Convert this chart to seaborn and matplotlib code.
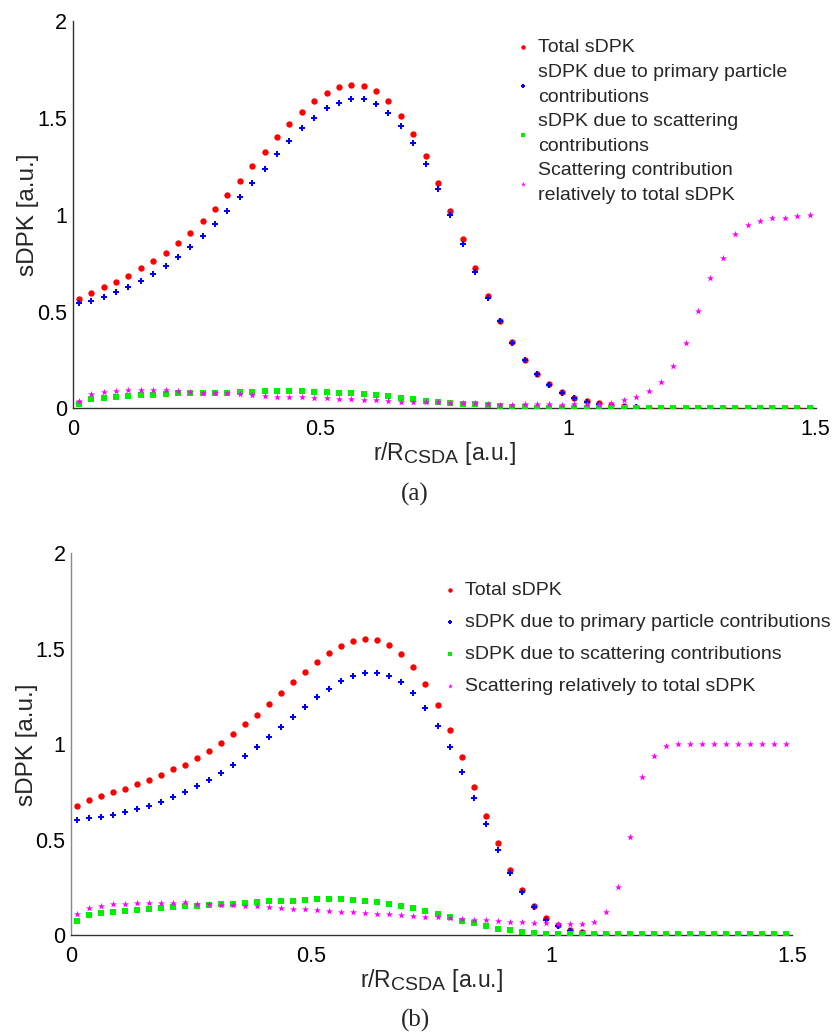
import numpy as np
import pandas as pd
import matplotlib
matplotlib.use("Agg")
import matplotlib.pyplot as plt
import seaborn as sns

try:
    import matplotlib._mathtext as _mt
    _mt.SHRINK_FACTOR = 0.85
except Exception:
    pass

# ---------------- data ----------------
r = [0.0125, 0.0375, 0.0625, 0.0875, 0.1125, 0.1375, 0.1625, 0.1875, 0.2125, 0.2375,
     0.2625, 0.2875, 0.3125, 0.3375, 0.3625, 0.3875, 0.4125, 0.4375, 0.4625, 0.4875,
     0.5125, 0.5375, 0.5625, 0.5875, 0.6125, 0.6375, 0.6625, 0.6875, 0.7125, 0.7375,
     0.7625, 0.7875, 0.8125, 0.8375, 0.8625, 0.8875, 0.9125, 0.9375, 0.9625, 0.9875,
     1.0125, 1.0375, 1.0625, 1.0875, 1.1125, 1.1375, 1.1625, 1.1875, 1.2125, 1.2375,
     1.2625, 1.2875, 1.3125, 1.3375, 1.3625, 1.3875, 1.4125, 1.4375, 1.4625, 1.4875]

a_total = [0.563, 0.598, 0.625, 0.655, 0.686, 0.724, 0.760, 0.803, 0.853, 0.908,
           0.966, 1.032, 1.103, 1.177, 1.251, 1.323, 1.401, 1.471, 1.531, 1.587,
           1.630, 1.661, 1.673, 1.666, 1.638, 1.587, 1.513, 1.417, 1.302, 1.166,
           1.021, 0.873, 0.723, 0.582, 0.453, 0.343, 0.252, 0.178, 0.125, 0.082,
           0.055, 0.036, 0.025, 0.015, 0.010, 0.006, 0.003, 0.003, 0.003, 0.003,
           0.003, 0.003, 0.003, 0.003, 0.003, 0.003, 0.003, 0.003, 0.003, 0.003]
a_primary = [0.543, 0.555, 0.575, 0.600, 0.625, 0.656, 0.693, 0.734, 0.782, 0.835,
             0.889, 0.954, 1.022, 1.090, 1.166, 1.239, 1.313, 1.382, 1.449, 1.502,
             1.550, 1.580, 1.600, 1.597, 1.573, 1.526, 1.460, 1.370, 1.261, 1.133,
             0.997, 0.851, 0.706, 0.572, 0.450, 0.339, 0.250, 0.176, 0.120, 0.081,
             0.053, 0.033, 0.022, 0.013, 0.008, 0.005, 0.003, 0.003, 0.003, 0.003,
             0.003, 0.003, 0.003, 0.003, 0.003, 0.003, 0.003, 0.003, 0.003, 0.003]
a_scatter = [0.024, 0.046, 0.053, 0.058, 0.065, 0.069, 0.070, 0.074, 0.077, 0.077,
             0.079, 0.081, 0.081, 0.086, 0.086, 0.089, 0.089, 0.089, 0.089, 0.084,
             0.084, 0.081, 0.077, 0.074, 0.067, 0.062, 0.053, 0.046, 0.039, 0.034,
             0.027, 0.024, 0.021, 0.015, 0.012, 0.008, 0.007, 0.004, 0.003, 0.003,
             0.003, 0.003, 0.003, 0.003, 0.003, 0.003, 0.003, 0.003, 0.003, 0.003,
             0.003, 0.003, 0.003, 0.003, 0.003, 0.003, 0.003, 0.003, 0.003, 0.003]
a_relative = [0.036, 0.074, 0.086, 0.091, 0.096, 0.096, 0.096, 0.094, 0.089, 0.086,
              0.081, 0.081, 0.079, 0.074, 0.070, 0.062, 0.060, 0.060, 0.057, 0.053,
              0.051, 0.050, 0.048, 0.043, 0.041, 0.038, 0.034, 0.034, 0.033, 0.031,
              0.029, 0.026, 0.025, 0.022, 0.019, 0.019, 0.020, 0.020, 0.020, 0.019,
              0.020, 0.021, 0.022, 0.026, 0.041, 0.057, 0.088, 0.134, 0.219, 0.336,
              0.501, 0.674, 0.779, 0.902, 0.949, 0.969, 0.981, 0.981, 0.995, 0.998]

b_total = [0.675, 0.710, 0.729, 0.749, 0.768, 0.792, 0.815, 0.838, 0.869, 0.894,
           0.928, 0.967, 1.009, 1.054, 1.105, 1.154, 1.211, 1.267, 1.325, 1.379,
           1.431, 1.478, 1.515, 1.543, 1.551, 1.548, 1.520, 1.474, 1.406, 1.318,
           1.208, 1.077, 0.932, 0.778, 0.627, 0.482, 0.342, 0.237, 0.155, 0.092,
           0.054, 0.026, 0.016, 0.008, 0.005, 0.003, 0.003, 0.003, 0.003, 0.003,
           0.003, 0.003, 0.003, 0.003, 0.003, 0.003, 0.003, 0.003, 0.003, 0.003]
b_primary = [0.604, 0.613, 0.620, 0.630, 0.646, 0.661, 0.675, 0.696, 0.723, 0.749,
             0.780, 0.815, 0.852, 0.894, 0.939, 0.984, 1.038, 1.091, 1.145, 1.197,
             1.248, 1.291, 1.332, 1.358, 1.373, 1.373, 1.359, 1.325, 1.267, 1.190,
             1.094, 0.984, 0.855, 0.717, 0.581, 0.447, 0.325, 0.225, 0.147, 0.082,
             0.047, 0.022, 0.013, 0.007, 0.004, 0.003, 0.003, 0.003, 0.003, 0.003,
             0.003, 0.003, 0.003, 0.003, 0.003, 0.003, 0.003, 0.003, 0.003, 0.003]
b_scatter = [0.073, 0.105, 0.115, 0.124, 0.127, 0.134, 0.138, 0.141, 0.147, 0.152,
             0.155, 0.160, 0.162, 0.164, 0.169, 0.174, 0.178, 0.181, 0.181, 0.185,
             0.188, 0.188, 0.188, 0.185, 0.181, 0.173, 0.166, 0.155, 0.143, 0.126,
             0.110, 0.095, 0.077, 0.063, 0.050, 0.035, 0.026, 0.016, 0.012, 0.009,
             0.005, 0.005, 0.005, 0.005, 0.005, 0.005, 0.005, 0.005, 0.005, 0.005,
             0.005, 0.005, 0.005, 0.005, 0.005, 0.005, 0.005, 0.005, 0.005, 0.005]
b_relative = [0.110, 0.143, 0.155, 0.164, 0.166, 0.171, 0.171, 0.171, 0.171, 0.173,
              0.166, 0.162, 0.160, 0.160, 0.155, 0.152, 0.148, 0.145, 0.139, 0.136,
              0.131, 0.126, 0.122, 0.120, 0.119, 0.113, 0.111, 0.106, 0.101, 0.098,
              0.094, 0.091, 0.085, 0.082, 0.080, 0.077, 0.071, 0.068, 0.066, 0.063,
              0.059, 0.061, 0.061, 0.071, 0.120, 0.253, 0.517, 0.829, 0.939, 0.990,
              1.002, 1.002, 1.002, 1.002, 1.002, 1.002, 1.002, 1.002, 1.002, 1.002]

labels_a = ["Total sDPK",
            "sDPK due to primary particle\ncontributions",
            "sDPK due to scattering\ncontributions",
            "Scattering contribution\nrelatively to total sDPK"]
labels_b = ["Total sDPK",
            "sDPK due to primary particle contributions",
            "sDPK due to scattering contributions",
            "Scattering relatively to total sDPK"]

x_ticks = [0, 0.5, 1, 1.5]
x_ticklabels = ["0", "0.5", "1", "1.5"]
y_ticks = [0, 0.5, 1, 1.5, 2]
y_ticklabels = ["0", "0.5", "1", "1.5", "2"]

# ---------------- style ----------------
sns.set_style("white")
plt.rcParams['font.family'] = ['Liberation Sans', 'DejaVu Sans']
plt.rcParams['mathtext.default'] = 'regular'

colors = ["#ff0000", "#0000ff", "#00ee00", "#ff00ff"]
markers = ["o", "P", "s", "*"]
sizes = [21, 22, 20, 28]

fig = plt.figure(figsize=(8.34, 10.35), dpi=100)
ax_a = fig.add_axes([72.7 / 834, 1 - 408.3 / 1035, 743 / 834, 387 / 1035])
ax_b = fig.add_axes([71 / 834, 1 - 935.3 / 1035, 721 / 834, 382 / 1035])


def draw(ax, series, labels, leg_anchor, labelspacing, linespacing, spine_left_color):
    for ys, lab, c, m, s in zip(series, labels, colors, markers, sizes):
        df = pd.DataFrame({"r": r, "v": ys})
        sns.scatterplot(data=df, x="r", y="v", ax=ax, color=c, marker=m, s=s,
                        linewidth=0, label=lab, zorder=3)
    ax.set_xlim(0, 1.5)
    ax.set_ylim(0, 2)
    ax.set_xticks(x_ticks)
    ax.set_xticklabels(x_ticklabels)
    ax.set_yticks(y_ticks)
    ax.set_yticklabels(y_ticklabels)
    for side in ["top", "right"]:
        ax.spines[side].set_visible(False)
    ax.spines["bottom"].set_color("#333333")
    ax.spines["left"].set_color(spine_left_color)
    ax.spines["bottom"].set_linewidth(1.0)
    ax.spines["left"].set_linewidth(1.0)
    ax.tick_params(axis="both", direction="in", length=5, width=0.8,
                   labelsize=15.5, colors="#333333", labelcolor="black")
    ax.tick_params(axis="x", pad=8)
    ax.tick_params(axis="y", pad=4)
    ax.set_xlabel("r/R$_{CSDA}$ [a.u.]", fontsize=16.5, labelpad=0)
    ax.set_ylabel("sDPK [a.u.]", fontsize=17.5)
    ax.yaxis.set_label_coords(-0.046, 0.5)
    leg = ax.legend(loc="upper left", bbox_to_anchor=leg_anchor, frameon=False,
                    fontsize=14.0, handlelength=0.8, handletextpad=0.4,
                    labelspacing=labelspacing, borderpad=0, borderaxespad=0,
                    markerscale=0.7)
    for t in leg.get_texts():
        t.set_linespacing(linespacing)
    return leg


draw(ax_a, [a_total, a_primary, a_scatter, a_relative], labels_a,
     (0.595, 0.955), 0.37, 1.62, "#333333")
draw(ax_b, [b_total, b_primary, b_scatter, b_relative], labels_b,
     (0.5146, 0.927), 0.75, 1.2, "#888888")

fig.text(415 / 834, 1 - 494 / 1035, "(a)", ha="center", va="center",
         fontsize=18, family=["Liberation Serif", "DejaVu Serif"])
fig.text(415 / 834, 1 - 1020 / 1035, "(b)", ha="center", va="center",
         fontsize=18, family=["Liberation Serif", "DejaVu Serif"])

fig.savefig("out.png", dpi=100)
